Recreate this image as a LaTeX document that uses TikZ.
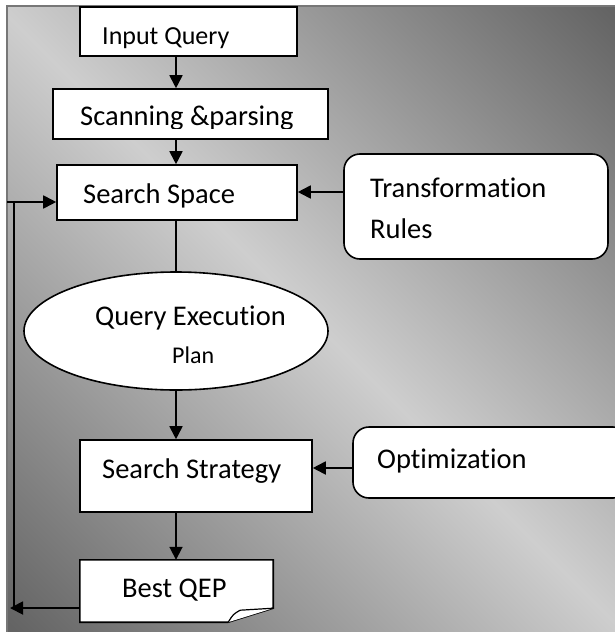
\documentclass[tikz,border=0pt]{standalone}
\usepackage{fontspec}
\setmainfont{Carlito}[Ligatures=NoCommon]
\usetikzlibrary{arrows.meta,shapes.geometric}

\definecolor{bgdark}{HTML}{646464}
\definecolor{bglight}{HTML}{CECECE}
\definecolor{bgedge}{HTML}{777777}
% diagonal backdrop: dark at two opposite corners, light along the other diagonal
\pgfdeclarehorizontalshading{bgdiag}{100bp}{color(0bp)=(bgdark); color(15bp)=(bgdark); color(50bp)=(bglight); color(85bp)=(bgdark); color(100bp)=(bgdark)}

\tikzset{
  stepbox/.style={draw, fill=white, line width=1.6pt, inner sep=0pt},
  roundbox/.style={stepbox, rounded corners=16pt},
  lbl/.style={anchor=base west, inner sep=0pt, font=\fontsize{28.5}{34}\selectfont},
  lblsmall/.style={lbl, font=\fontsize{24}{29}\selectfont},
  lblinput/.style={lbl, font=\fontsize{26}{31}\selectfont},
  conn/.style={line width=1.8pt},
  arr/.style={conn, -{Triangle[length=13pt,width=13pt]}},
}

\begin{document}
\begin{tikzpicture}[x=1pt, y=-1pt]
\useasboundingbox (0,0) rectangle (615,632);

% backdrop panel
\fill[shading=bgdiag, shading angle=45] (7,6) rectangle (615,632);
\draw[bgedge, line width=1.5pt] (7,632) -- (7,6) -- (615,6);

% vertical spine of the flow
\coordinate (spine) at (176,0);

% boxes
\node[stepbox, minimum width=217pt, minimum height=49pt] (iq) at (188.5,31.5) {};
\node[stepbox, minimum width=275pt, minimum height=50pt] (scan) at (190.5,114) {};
\node[stepbox, minimum width=240pt, minimum height=55pt] (sp) at (177,192.5) {};
\node[roundbox, minimum width=264pt, minimum height=105pt] (tr) at (476,206.5) {};
\node[ellipse, stepbox, minimum width=304pt, minimum height=118pt] (qep) at (176,331) {};
\node[stepbox, minimum width=232pt, minimum height=72pt] (ss) at (196,476) {};
\node[roundbox, minimum width=276pt, minimum height=71pt] (opt) at (491,462.5) {};

% Best QEP: document sheet with a curled corner
\node[minimum width=193pt, minimum height=62pt, inner sep=0pt] (best) at (176.5,591) {};
\draw[fill=white, line width=1.6pt]
  (best.north west) -- (best.north east) -- ([yshift=14pt]best.south east)
  -- ([xshift=-45pt]best.south east) -- (best.south west) -- cycle;
\draw[fill=white, line width=1.2pt]
  ([xshift=-45pt]best.south east) .. controls ([xshift=-40pt,yshift=8pt]best.south east)
  .. ([xshift=-33pt,yshift=12pt]best.south east) -- ([yshift=14pt]best.south east);

% texts
\node[lblinput] (tiq) at (102,44) {Input Query};
\begin{scope}
  % the label's text area ends just under the baseline
  \clip (scan.north west) rectangle ([yshift=11pt]scan.east |- scan.south);
  \node[lbl] (tscan) at (80,125) {Scanning \&parsing};
\end{scope}
\node[lbl] (tsp) at (83,203) {Search Space};
\node[lbl] (ttr1) at (370,197) {Transformation};
\node[lbl] (ttr2) at (370,238) {Rules};
\node[lbl] (tqep) at (95,325) {Query Execution};
\node[lblsmall] (tplan) at (172,363) {Plan};
\node[lbl] (tss) at (102,478) {Search Strategy};
\node[lbl] (topt) at (377,468) {Optimization};
\node[lbl] (tbest) at (122,597) {Best QEP};

% main flow
\draw[arr] (iq.south -| spine) -- (scan.north -| spine);
\draw[arr] (scan.south -| spine) -- (sp.north -| spine);
\draw[conn] (sp.south -| spine) -- (qep.north -| spine);
\draw[arr] (qep.south -| spine) -- (ss.north -| spine);
\draw[arr] (ss.south -| spine) -- (best.north -| spine);

% side inputs
\coordinate (trlevel) at (0,192);
\coordinate (optlevel) at (0,468);
\draw[arr] (tr.west |- trlevel) -- (sp.east |- trlevel);
\draw[arr] (opt.west |- optlevel) -- (ss.east |- optlevel);

% feedback loop on the left
\coordinate (loopout) at (10,608);
\coordinate (loopfoot) at (14,608);
\coordinate (loophead) at (14,202);
\coordinate (loopin) at (7,202);
\draw[arr] (best.west |- loopout) -- (loopout);
\draw[conn] (loopfoot) -- (loophead);
\draw[arr] (loopin) -- (sp.west |- loopin);
\end{tikzpicture}
\end{document}
